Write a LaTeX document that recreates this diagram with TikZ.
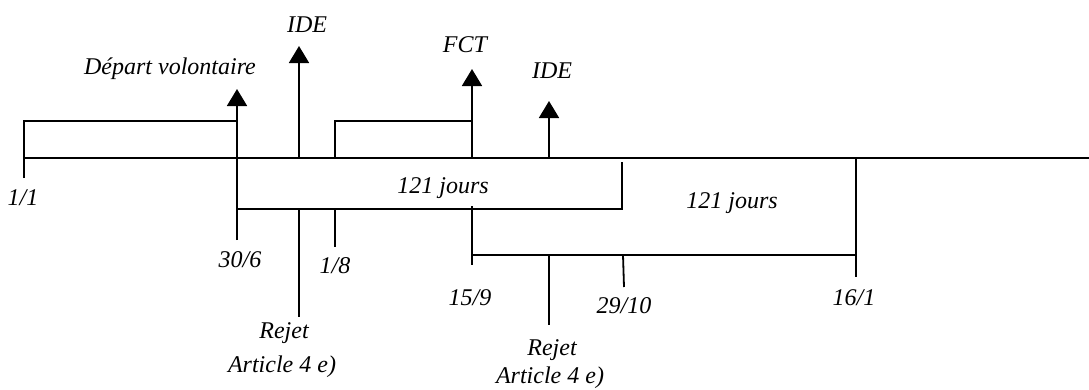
\documentclass[tikz,border=0pt]{standalone}
\usepackage{fontspec}
\setmainfont{Liberation Serif}
\usepackage{tikz}
\usetikzlibrary{arrows.meta}

\begin{document}
\begin{tikzpicture}[
  x=1pt, y=-1pt,
  line width=1.8pt,
  lbl/.style={
    font=\itshape\fontsize{24}{26}\selectfont, inner sep=0pt, anchor=base
  },
  arr/.style={-{Triangle[width=20pt,length=17pt]}}
]
\useasboundingbox (0,0) rectangle (1089,389);

% time axis and its marks
\coordinate (t0) at (24,158);
\coordinate (tend) at (1089,158);
\coordinate (jan-hi) at (24,121);
\coordinate (jan-lo) at (24,178);
\coordinate (dep-hi) at (237,121);
\coordinate (dep-mid) at (237,209);
\coordinate (dep-lo) at (237,240);
\coordinate (dep-tip) at (237,89);
\coordinate (ide-base) at (299,158);
\coordinate (ide-tip) at (299,46);
\coordinate (rej-hi) at (299,209);
\coordinate (rej-lo) at (299,317);
\coordinate (aug-ax) at (335,158);
\coordinate (aug-hi) at (335,121);
\coordinate (aug-mid) at (335,209);
\coordinate (aug-lo) at (335,247);
\coordinate (fct-hi) at (472,121);
\coordinate (fct-base) at (472,158);
\coordinate (fct-tip) at (472,69);
\coordinate (sep-hi) at (472,206);
\coordinate (sep-mid) at (472,255);
\coordinate (sep-lo) at (472,265);
\coordinate (ide2-base) at (549,158);
\coordinate (ide2-tip) at (549,101);
\coordinate (rej2-hi) at (549,255);
\coordinate (rej2-lo) at (549,325);
\coordinate (oct-hi) at (622,162);
\coordinate (oct-mid) at (622,209);
\coordinate (oct-top) at (623,255);
\coordinate (oct-lo) at (624,287);
\coordinate (fin-hi) at (856,158);
\coordinate (fin-mid) at (856,255);
\coordinate (fin-lo) at (856,277);

\draw (t0) -- (tend);
\draw (jan-lo) -- (jan-hi) -- (dep-hi);
\draw[arr] (dep-lo) -- (dep-tip);
\draw[arr] (ide-base) -- (ide-tip);
\draw (rej-hi) -- (rej-lo);
\draw (aug-ax) -- (aug-hi) -- (fct-hi);
\draw (aug-mid) -- (aug-lo);
\draw[arr] (fct-base) -- (fct-tip);
\draw (dep-mid) -- (oct-mid) -- (oct-hi);
\draw (sep-hi) -- (sep-lo);
\draw (sep-mid) -- (fin-mid);
\draw (fin-hi) -- (fin-lo);
\draw[arr] (ide2-base) -- (ide2-tip);
\draw (rej2-hi) -- (rej2-lo);
\draw (oct-top) -- (oct-lo);

% labels
\node[lbl] (l-dep) at (170,74) {Départ volontaire};
\node[lbl] (l-ide) at (307,32) {IDE};
\node[lbl] (l-fct) at (465,52) {FCT};
\node[lbl] (l-ide2) at (552,78) {IDE};
\node[lbl] (l-jan) at (23,205) {1/1};
\node[lbl] (l-jun) at (240,267) {30/6};
\node[lbl] (l-aug) at (335,273) {1/8};
\node[lbl] (l-rej) at (284,338) {Rejet};
\node[lbl] (l-art) at (282,372) {Article 4 e)};
\node[lbl] (l-d1) at (443,193) {121 jours};
\node[lbl] (l-d2) at (732,208) {121 jours};
\node[lbl] (l-sep) at (470,305) {15/9};
\node[lbl] (l-oct) at (624,313) {29/10};
\node[lbl] (l-fin) at (854,305) {16/1};
\node[lbl] (l-rej2) at (552,355) {Rejet};
\node[lbl] (l-art2) at (550,383) {Article 4 e)};
\end{tikzpicture}
\end{document}
